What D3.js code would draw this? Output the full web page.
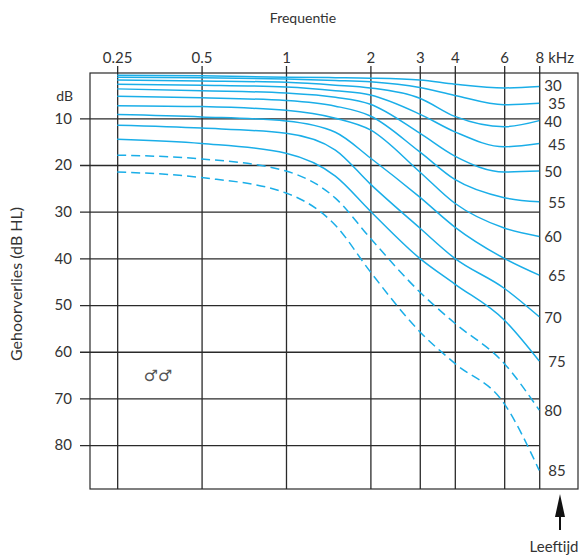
<!DOCTYPE html>
<html>
<head>
<meta charset="utf-8">
<script src="https://cdn.jsdelivr.net/npm/d3@7"></script>
<style>
  body { margin: 0; background: #fff; }
  svg text {
    font-family: Lato, "Noto Sans", sans-serif;
    fill: #333;
  }
  .grid line { stroke: #2a2a2a; stroke-width: 1.3; }
  .curve { fill: none; stroke: #1aaee8; stroke-width: 1.5; }
  .curve.dashed { stroke-dasharray: 9 5; }
</style>
</head>
<body>
<svg id="chart" width="588" height="556"></svg>
<script>
// frequencies (kHz) where curve values were read
const freqs = [0.25, 0.5, 1, 1.5, 2, 3, 4, 6, 8];
const freq_ticks = [0.25, 0.5, 1, 2, 3, 4, 6, 8];
const freq_labels = ["0.25", "0.5", "1", "2", "3", "4", "6", "8"];
const db_ticks = [10, 20, 30, 40, 50, 60, 70, 80];
const ages = [30, 35, 40, 45, 50, 55, 60, 65, 70, 75, 80, 85];
const dashed_ages = [80, 85];

// hearing loss (dB HL) per age, one value per frequency
const loss30 = [0.8, 0.9, 1.2, 1.3, 1.4, 1.8, 2.7, 3.5, 3.2];
const loss35 = [1.2, 1.3, 1.6, 1.9, 2.2, 3.4, 5.1, 7.1, 6.8];
const loss40 = [1.8, 2.0, 2.3, 2.9, 3.5, 5.7, 9.6, 11.8, 10.5];
const loss45 = [2.7, 2.9, 3.3, 4.1, 5.0, 9.1, 12.9, 16.1, 15.4];
const loss50 = [3.7, 4.1, 4.6, 5.5, 7.0, 13.2, 18.1, 21.5, 21.3];
const loss55 = [5.3, 5.6, 6.2, 7.4, 9.5, 17.2, 23.1, 27.0, 27.9];
const loss60 = [7.3, 7.5, 8.3, 10.0, 12.5, 21.5, 28.2, 33.5, 35.3];
const loss65 = [9.2, 9.7, 10.6, 13.0, 18.5, 26.9, 33.3, 40.0, 43.6];
const loss70 = [11.5, 12.1, 13.2, 16.8, 24.1, 33.5, 40.0, 46.4, 52.5];
const loss75 = [14.5, 15.4, 17.5, 22.4, 29.9, 40.0, 45.5, 53.2, 62.0];
const loss80 = [17.9, 18.7, 21.3, 27.1, 35.7, 47.2, 53.9, 62.5, 72.5];
const loss85 = [21.5, 22.7, 26.0, 32.9, 42.9, 55.7, 62.5, 71.1, 85.4];
const losses = [loss30, loss35, loss40, loss45, loss50, loss55,
                loss60, loss65, loss70, loss75, loss80, loss85];

const svg = d3.select("#chart");
const m_left = 90, m_right = 578, m_top = 73, m_bottom = 489;

const x = d3.scaleLog().domain([0.2, 11]).range([m_left, m_right]);
const y = d3.scaleLinear().domain([0, 89.4]).range([71.6, m_bottom]);
const x_end = x(8);

// vertical grid with top labels
svg.append("g")
  .attr("class", "grid")
  .attr("transform", `translate(0,${m_bottom})`)
  .call(d3.axisTop(x)
    .tickValues(freq_ticks)
    .tickFormat((d, i) => freq_labels[i])
    .tickSize(m_bottom - 66)
    .tickPadding(3))
  .call(g => g.select(".domain").remove())
  .call(g => g.selectAll("text").attr("font-size", 15).attr("fill", "#333"));

// horizontal grid with left labels
svg.append("g")
  .attr("class", "grid")
  .attr("transform", `translate(${x_end},0)`)
  .call(d3.axisLeft(y)
    .tickValues(db_ticks)
    .tickSize(x_end - 80)
    .tickPadding(8))
  .call(g => g.select(".domain").remove())
  .call(g => g.selectAll("text").attr("font-size", 15).attr("fill", "#333"));

// frame
svg.append("rect")
  .attr("x", m_left).attr("y", m_top)
  .attr("width", m_right - m_left).attr("height", m_bottom - m_top)
  .attr("fill", "none").attr("stroke", "#2a2a2a").attr("stroke-width", 1.2);

// curves
const line = d3.line()
  .x((d, i) => x(freqs[i]))
  .y(d => y(d))
  .curve(d3.curveMonotoneX);

svg.append("g").selectAll("path")
  .data(losses)
  .join("path")
  .attr("class", (d, i) => dashed_ages.includes(ages[i]) ? "curve dashed" : "curve")
  .attr("d", line);

// age labels at curve ends, nudged up where they would collide
const label_y = losses.map(d => y(d[d.length - 1]));
for (let i = label_y.length - 2; i >= 0; i--) {
  if (label_y[i + 1] - label_y[i] < 18) label_y[i] = label_y[i + 1] - 18;
}
svg.append("g").selectAll("text")
  .data(ages)
  .join("text")
  .attr("x", (d, i) => x_end + (i % 2 ? 9 : 5))
  .attr("y", (d, i) => label_y[i])
  .attr("dominant-baseline", "central")
  .attr("font-size", 15)
  .text(d => d);

// texts
svg.append("text").attr("x", x_end + 9).attr("y", 63)
  .attr("font-size", 15).text("kHz");
svg.append("text").attr("x", 303).attr("y", 23)
  .attr("text-anchor", "middle").attr("font-size", 14).text("Frequentie");
svg.append("text").attr("x", 73).attr("y", 101)
  .attr("text-anchor", "end").attr("font-size", 14).text("dB");
svg.append("text")
  .attr("transform", "translate(22,284) rotate(-90)")
  .attr("text-anchor", "middle").attr("font-size", 16)
  .text("Gehoorverlies (dB HL)");
svg.append("text").attr("x", 158).attr("y", 381)
  .attr("text-anchor", "middle")
  .style("font-family", "'DejaVu Sans'")
  .style("fill", "#555")
  .attr("font-size", 16).text("♂♂");
svg.append("text").attr("x", 554).attr("y", 552)
  .attr("text-anchor", "middle").attr("font-size", 15).text("Leeftijd");

// arrow pointing up to the age labels
svg.append("line")
  .attr("x1", 560).attr("x2", 560).attr("y1", 530).attr("y2", 512)
  .attr("stroke", "#111").attr("stroke-width", 2);
svg.append("path")
  .attr("d", "M560,494 L565,517 L555,517 Z")
  .attr("fill", "#111");
</script>
</body>
</html>
